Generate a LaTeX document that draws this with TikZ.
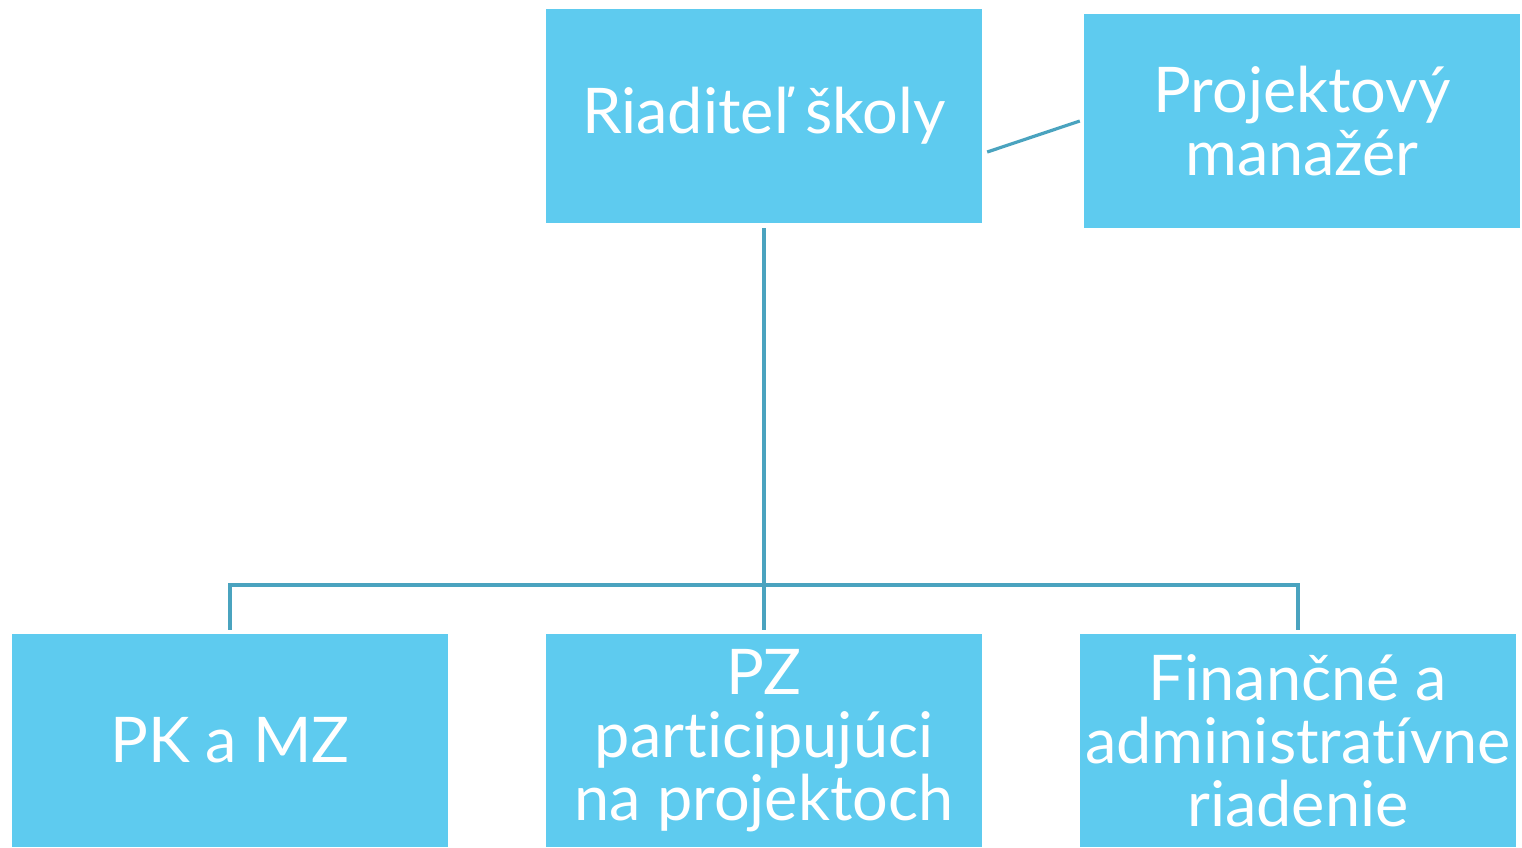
\documentclass[tikz,border=0pt]{standalone}
\usepackage{fontspec}
\setmainfont{Lato}[RawFeature={-liga;-dlig;-clig}]
\definecolor{boxfill}{HTML}{5ECBEF}
\definecolor{linec}{HTML}{4AA3BF}
\begin{document}
\begin{tikzpicture}[x=1pt,y=-1pt,
  orgbox/.style={fill=boxfill, draw=none, text=white, align=center,
    font=\fontsize{63}{63}\selectfont, inner sep=0pt, minimum width=436pt, minimum height=214pt},
  conn/.style={draw=linec, line width=3.2pt}]
\useasboundingbox (0,0) rectangle (1522,847);
\node[orgbox, minimum height=214pt] (dir) at (764,116) {Riaditeľ školy};
\node[orgbox, minimum height=214pt] (pm) at (1302,121) {Projektový\\manažér};
\node[orgbox, minimum height=213pt] (pk) at (230,740.5) {PK a MZ};
\node[orgbox, minimum height=213pt] (pz) at (764,740.5) {PZ\\participujúci\\na projektoch};
\node[orgbox, minimum height=213pt] (fin) at (1298,740.5) {Finančné a\\administratívne\\riadenie};
\coordinate (bus) at (764,585);
\draw[conn] ([yshift=-5pt]dir.south) -- ([yshift=4pt]pz.north);
\draw[conn] ([yshift=4pt]pk.north) |- (bus) -| ([yshift=4pt]fin.north);
\draw[conn] ([xshift=5pt,yshift=-36pt]dir.east) -- ([xshift=-4pt,yshift=0pt]pm.west);
\end{tikzpicture}
\end{document}
